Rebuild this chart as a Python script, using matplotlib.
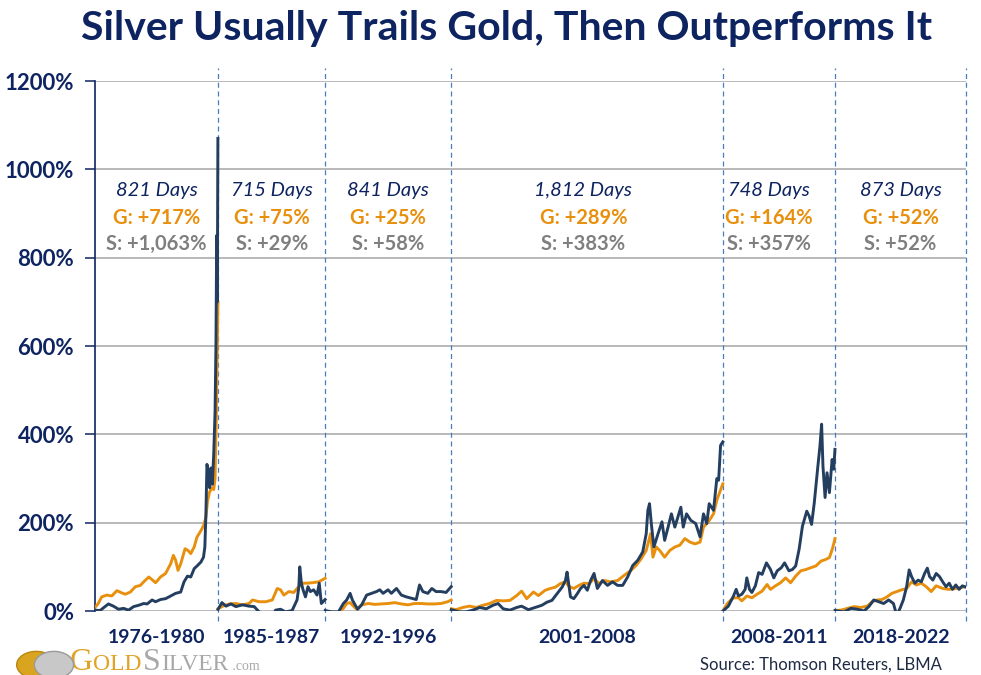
import matplotlib.pyplot as plt
import matplotlib.transforms as mtransforms
from matplotlib.patches import Circle
import numpy as np

plt.rcParams['font.family'] = ['Lato', 'DejaVu Sans']

# periods, trading days and headline gains
periods = ['1976-1980', '1985-1987', '1992-1996', '2001-2008', '2008-2011', '2018-2022']
days = [821, 715, 841, 1812, 748, 873]
gold_gain = ['+717%', '+75%', '+25%', '+289%', '+164%', '+52%']
silver_gain = ['+1,063%', '+29%', '+58%', '+383%', '+357%', '+52%']

# gold / silver % change (day within period, value)
g1_day = [0, 22, 45, 79, 112, 146, 179, 202, 236, 269, 303, 325, 359, 381, 404, 437, 471, 505, 523, 538,
          554, 572, 601, 621, 639, 662, 680, 707, 724, 740, 751, 763, 778, 792, 801, 810, 816, 820]
g1_val = [8, 17, 32, 36, 34, 46, 41, 38, 43, 55, 58, 66, 77, 71, 64, 77, 85, 107, 126, 115,
          92, 107, 141, 137, 130, 145, 167, 182, 193, 212, 249, 268, 279, 275, 300, 450, 600, 700]
s1_day = [0, 34, 67, 90, 123, 157, 191, 224, 258, 292, 325, 348, 381, 404, 437, 471, 505, 538, 572, 594,
          617, 639, 662, 684, 707, 724, 733, 740, 747, 756, 765, 774, 783, 792, 801, 807, 812, 816, 820]
s1_val = [2, 1, 10, 16, 11, 4, 6, 2, 10, 13, 17, 16, 25, 21, 26, 28, 34, 40, 43, 66,
          79, 77, 96, 103, 111, 122, 145, 219, 332, 317, 279, 324, 287, 354, 450, 600, 850, 700, 1070]

g2_day = [0, 31, 75, 119, 163, 207, 230, 274, 318, 362, 395, 417, 439, 472, 505, 527, 561, 594, 627, 671, 714]
g2_val = [5, 11, 16, 17, 14, 17, 25, 21, 21, 25, 51, 48, 36, 44, 42, 51, 63, 63, 64, 66, 74]
s2_day = [0, 26, 53, 86, 119, 163, 207, 241, 274, 318, 362, 384, 417, 450, 494, 527, 539, 545, 556, 567,
          583, 600, 616, 638, 660, 675, 689, 714]
s2_val = [4, 19, 11, 16, 10, 14, 11, 10, -2, -9, -13, 2, 4, -2, 1, 25, 55, 100, 63, 48,
          32, 55, 44, 48, 36, 63, 17, 26]

g3_day = [0, 88, 121, 143, 166, 188, 210, 243, 287, 331, 375, 419, 463, 508, 552, 596, 640, 684, 728, 772, 817, 840]
g3_val = [-2, -4, 6, 17, 19, 11, 4, 14, 17, 15, 16, 17, 19, 16, 14, 17, 17, 16, 16, 17, 21, 25]
s3_day = [0, 44, 88, 121, 143, 166, 181, 199, 216, 243, 276, 309, 342, 364, 386, 419, 441, 475, 508, 541,
          574, 607, 629, 651, 684, 711, 739, 772, 806, 840]
s3_val = [1, -2, -2, 17, 25, 40, 25, 14, 4, 14, 36, 40, 44, 48, 40, 48, 40, 51, 36, 32,
          29, 26, 59, 44, 40, 51, 44, 44, 42, 55]

g4_day = [0, 31, 76, 121, 166, 211, 256, 301, 346, 391, 436, 469, 503, 548, 581, 626, 660, 694, 727, 761,
          784, 817, 851, 885, 918, 952, 986, 1019, 1064, 1109, 1154, 1199, 1232, 1266, 1300, 1329, 1345, 1367, 1390, 1423,
          1457, 1491, 1524, 1558, 1592, 1625, 1659, 1682, 1715, 1749, 1771, 1811]
g4_val = [5, 3, 8, 11, 8, 13, 17, 24, 23, 24, 35, 45, 28, 43, 35, 47, 51, 54, 62, 66,
          56, 51, 58, 63, 62, 73, 62, 69, 66, 69, 81, 92, 103, 118, 137, 175, 122, 145, 137, 122,
          137, 145, 149, 164, 156, 152, 156, 190, 202, 220, 251, 288]
s4_day = [0, 54, 99, 144, 189, 233, 278, 312, 346, 391, 436, 469, 514, 559, 604, 638, 671, 705, 739, 761,
          772, 795, 817, 840, 862, 885, 907, 929, 952, 974, 1008, 1042, 1075, 1109, 1143, 1176, 1210, 1244, 1277, 1300,
          1311, 1322, 1334, 1351, 1379, 1405, 1423, 1446, 1468, 1491, 1531, 1547, 1569, 1598, 1630, 1659, 1682, 1704, 1720, 1749,
          1771, 1783, 1796, 1811]
s4_val = [3, -2, -2, 2, 8, 5, 13, 17, 5, 2, 8, 11, 3, 8, 13, 20, 24, 39, 54, 69,
          88, 32, 28, 39, 51, 58, 47, 69, 85, 51, 69, 58, 66, 58, 58, 77, 103, 115, 134, 175,
          228, 243, 198, 145, 175, 202, 160, 190, 220, 190, 235, 190, 220, 205, 198, 168, 220, 198, 243, 228,
          300, 296, 375, 383]

g5_day = [0, 25, 47, 70, 103, 126, 159, 193, 227, 261, 294, 317, 350, 384, 418, 451, 485, 519, 553, 586,
          620, 654, 687, 710, 732, 747]
g5_val = [0, 15, 23, 30, 30, 23, 34, 30, 38, 45, 60, 49, 57, 64, 75, 64, 79, 91, 94, 98,
          102, 113, 117, 121, 143, 164]
s5_day = [0, 36, 70, 88, 103, 126, 148, 159, 177, 193, 216, 238, 261, 290, 317, 339, 362, 389, 411, 440,
          463, 485, 508, 530, 559, 575, 591, 609, 631, 647, 658, 667, 681, 694, 710, 728, 739, 747]
s5_val = [0, 11, 34, 49, 34, 38, 49, 75, 49, 42, 57, 87, 83, 109, 94, 75, 91, 98, 109, 91,
          94, 102, 140, 192, 226, 215, 196, 245, 321, 374, 423, 328, 257, 313, 268, 343, 321, 366]

g6_day = [0, 39, 83, 127, 171, 214, 247, 280, 313, 346, 379, 411, 444, 477, 510, 543, 575, 608, 641, 674,
          718, 761, 805, 849, 872]
g6_val = [1, 2, 6, 10, 8, 11, 21, 25, 26, 32, 40, 44, 48, 51, 66, 59, 63, 55, 44, 57,
          51, 49, 51, 54, 55]
s6_day = [0, 61, 105, 149, 193, 225, 258, 291, 324, 357, 389, 411, 433, 455, 477, 494, 510, 532, 554, 575,
          597, 615, 630, 652, 674, 696, 718, 740, 761, 783, 805, 827, 849, 872]
s6_val = [1, -2, 6, 4, 0, 10, 25, 21, 17, 25, 17, -10, 6, 25, 55, 93, 78, 63, 70, 66,
          85, 97, 78, 70, 85, 78, 66, 55, 63, 49, 59, 49, 57, 54]

gold_days = [g1_day, g2_day, g3_day, g4_day, g5_day, g6_day]
gold_vals = [g1_val, g2_val, g3_val, g4_val, g5_val, g6_val]
silver_days = [s1_day, s2_day, s3_day, s4_day, s5_day, s6_day]
silver_vals = [s1_val, s2_val, s3_val, s4_val, s5_val, s6_val]

GOLD = '#E8900E'
SILVER = '#243E60'
NAVY = '#0E2461'
GRAY = '#7F7F7F'

fig = plt.figure(figsize=(9.81, 6.75), dpi=100)
ax = fig.add_axes([0.0968, 0.0948, 0.8879, 0.7852])

starts = np.concatenate([[0], np.cumsum(days)[:-1]])
total = sum(days)

for i in range(len(periods)):
    ax.plot(starts[i] + np.array(gold_days[i]), gold_vals[i], color=GOLD, lw=2.1, zorder=3)
    ax.plot(starts[i] + np.array(silver_days[i]), silver_vals[i], color=SILVER, lw=2.1, zorder=4)

# period separators
for b in np.cumsum(days):
    ax.axvline(b, ymin=-0.018, ymax=1.025, color='#4A7CC0', lw=0.9, ls=(0, (4, 3)), clip_on=False, zorder=2)

ax.set_xlim(0, total)
ax.set_ylim(0, 1200)
ax.set_yticks(range(0, 1201, 200))
ax.set_yticklabels([f'{v}%' for v in range(0, 1201, 200)], fontsize=16, fontweight='bold', color=NAVY)
ax.set_xticks([])
ax.grid(axis='y', color='#A6A6A6', lw=1.1, zorder=0)
ax.tick_params(axis='y', length=7, width=1.1, color=NAVY, pad=8, direction='out')
for s in ['top', 'right', 'bottom']:
    ax.spines[s].set_visible(False)
ax.spines['left'].set_color(NAVY)
ax.spines['left'].set_linewidth(1.2)

trans = mtransforms.blended_transform_factory(ax.transData, ax.transAxes)
shift = [0, 0, 0, -25, -70, 0]
for i in range(len(periods)):
    mid = starts[i] + days[i] / 2
    ax.text(mid, -0.05, periods[i], transform=trans, ha='center', va='center',
            fontsize=14, fontweight='bold', color=NAVY)
    xm = mid + shift[i]
    ax.text(xm, 951, f'{days[i]:,} Days', ha='center', va='center', fontsize=14.5,
            style='italic', color=NAVY)
    ax.text(xm, 889, f'G: {gold_gain[i]}', ha='center', va='center', fontsize=14.5,
            fontweight='bold', color=GOLD)
    ax.text(xm, 830, f'S: {silver_gain[i]}', ha='center', va='center', fontsize=14.5,
            fontweight='bold', color=GRAY)

fig.text(0.516, 0.958, 'Silver Usually Trails Gold, Then Outperforms It', ha='center', va='center',
         fontsize=29.5, fontweight='bold', color=NAVY)
fig.text(0.96, 0.015, 'Source: Thomson Reuters, LBMA', ha='right', va='center', fontsize=12, color='#1F2A44')

# logo at the bottom edge
fig.patches.append(Circle((0.037, 0.015), 0.020, transform=fig.transFigure, facecolor='#D9A520',
                          edgecolor='#B8860B', zorder=5))
fig.patches.append(Circle((0.055, 0.015), 0.020, transform=fig.transFigure, facecolor='#C8C8C8',
                          edgecolor='#9A9A9A', zorder=6))
renderer = fig.canvas.get_renderer()
x0 = 70
logo = [('G', 23, '#E0A326'), ('OLD', 17, '#E0A326'), ('S', 23, '#A8A8A8'), ('ILVER', 17, '#A8A8A8'),
        (' .com', 10, '#A8A8A8')]
for txt, fs, col in logo:
    t = fig.text(x0 / 981, 0.008, txt, fontsize=fs, family='Liberation Serif', color=col, va='baseline')
    x0 = t.get_window_extent(renderer).x1 + 0.5

fig.savefig('out.png', dpi=100)
